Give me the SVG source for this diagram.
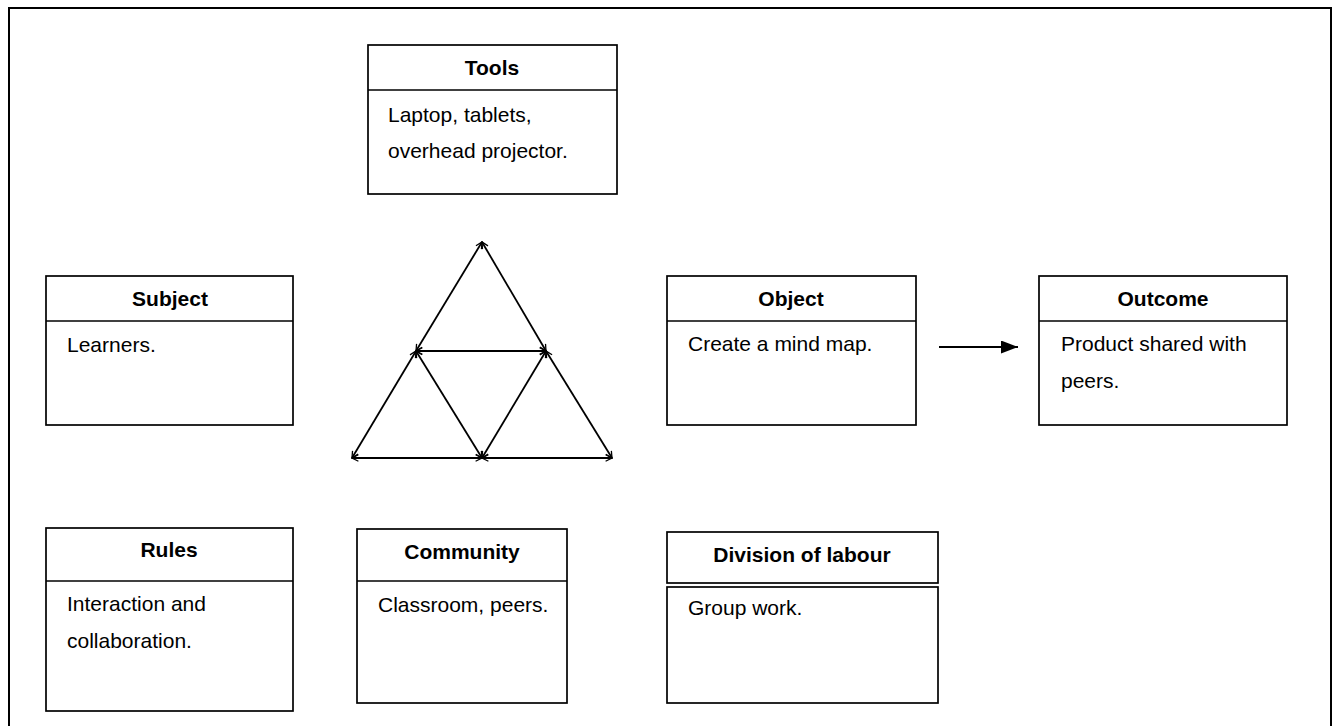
<svg xmlns="http://www.w3.org/2000/svg" width="1333" height="726" viewBox="0 0 1333 726">
<style>
.box{fill:#fff;stroke:#000;stroke-width:1.7}
.sep{stroke:#000;stroke-width:1.7}
.t{font-family:"Liberation Sans",Arial,sans-serif;font-size:21px;font-weight:bold;text-anchor:middle;fill:#000}
.b{font-family:"Liberation Sans",Arial,sans-serif;font-size:21px;fill:#000}
.tri{stroke:#000;stroke-width:1.8;fill:none;marker-start:url(#open);marker-end:url(#open)}
</style>
<defs>
<marker id="open" viewBox="0 0 10 10" refX="9" refY="5" markerWidth="8" markerHeight="8" markerUnits="userSpaceOnUse" orient="auto-start-reverse">
<path d="M1,1 L9,5 L1,9" fill="none" stroke="#000" stroke-width="1.6"/>
</marker>
<marker id="solid" viewBox="0 0 10 10" refX="10" refY="5" markerWidth="17" markerHeight="13" markerUnits="userSpaceOnUse" orient="auto" preserveAspectRatio="none">
<path d="M0,0 L10,5 L0,10 Z" fill="#000"/>
</marker>
</defs>
<rect x="9" y="8" width="1322" height="740" fill="#fff" stroke="#000" stroke-width="2"/>

<g id="tools">
<rect class="box" x="368" y="45" width="249" height="149"/>
<line class="sep" x1="368" y1="90" x2="617" y2="90"/>
<text class="t" x="492" y="75">Tools</text>
<text class="b" x="388" y="122">Laptop, tablets,</text>
<text class="b" x="388" y="158">overhead projector.</text>
</g>

<g id="subject">
<rect class="box" x="46" y="276" width="247" height="149"/>
<line class="sep" x1="46" y1="321" x2="293" y2="321"/>
<text class="t" x="170" y="306">Subject</text>
<text class="b" x="67" y="352">Learners.</text>
</g>

<g id="object">
<rect class="box" x="667" y="276" width="249" height="149"/>
<line class="sep" x1="667" y1="321" x2="916" y2="321"/>
<text class="t" x="791" y="306">Object</text>
<text class="b" x="688" y="351">Create a mind map.</text>
</g>

<g id="outcome">
<rect class="box" x="1039" y="276" width="248" height="149"/>
<line class="sep" x1="1039" y1="321" x2="1287" y2="321"/>
<text class="t" x="1163" y="306">Outcome</text>
<text class="b" x="1061" y="351">Product shared with</text>
<text class="b" x="1061" y="388">peers.</text>
</g>

<g id="rules">
<rect class="box" x="46" y="528" width="247" height="183"/>
<line class="sep" x1="46" y1="581" x2="293" y2="581"/>
<text class="t" x="169" y="557">Rules</text>
<text class="b" x="67" y="611">Interaction and</text>
<text class="b" x="67" y="648">collaboration.</text>
</g>

<g id="community">
<rect class="box" x="357" y="529" width="210" height="174"/>
<line class="sep" x1="357" y1="581" x2="567" y2="581"/>
<text class="t" x="462" y="559">Community</text>
<text class="b" x="378" y="612">Classroom, peers.</text>
</g>

<g id="division">
<rect class="box" x="667" y="532" width="271" height="51"/>
<rect class="box" x="667" y="587" width="271" height="116"/>
<text class="t" x="802" y="562">Division of labour</text>
<text class="b" x="688" y="615">Group work.</text>
</g>

<g id="connectors">
<line class="tri" x1="482" y1="242" x2="416" y2="351"/>
<line class="tri" x1="416" y1="351" x2="352" y2="458"/>
<line class="tri" x1="482" y1="242" x2="546" y2="351"/>
<line class="tri" x1="546" y1="351" x2="612" y2="458"/>
<line class="tri" x1="416" y1="351" x2="546" y2="351"/>
<line class="tri" x1="416" y1="351" x2="482" y2="458"/>
<line class="tri" x1="546" y1="351" x2="482" y2="458"/>
<line class="tri" x1="352" y1="458" x2="482" y2="458"/>
<line class="tri" x1="482" y1="458" x2="612" y2="458"/>
<line x1="939" y1="347" x2="1018" y2="347" stroke="#000" stroke-width="2" marker-end="url(#solid)"/>
</g>
</svg>
